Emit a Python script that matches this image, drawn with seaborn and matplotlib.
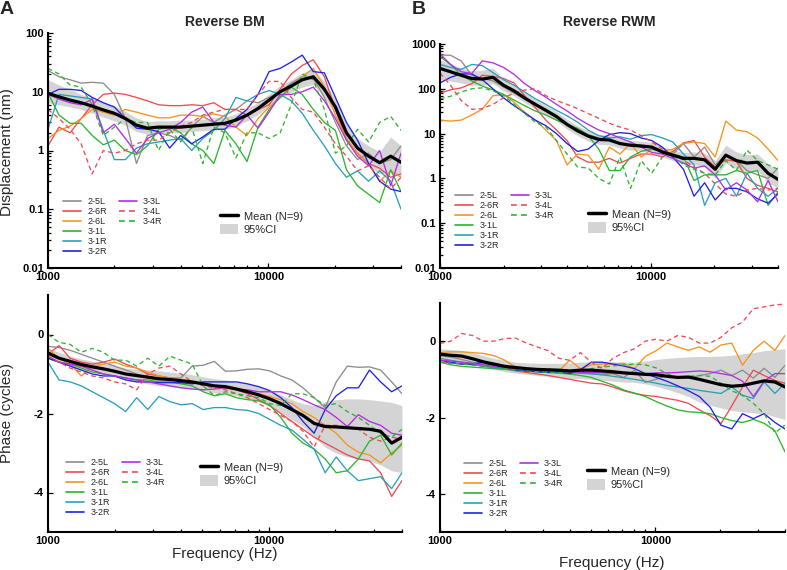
# Reverse BM / RWM transfer functions: magnitude (top) and phase (bottom)
# 9 ears, their mean and the 95% confidence band.

import numpy as np
import pandas as pd
import matplotlib
matplotlib.use("Agg")
import matplotlib.pyplot as plt
import seaborn as sns
from matplotlib.lines import Line2D
from matplotlib.patches import Patch
from matplotlib.ticker import LogLocator, NullFormatter


# 1. Data
# Frequencies in 1/6-octave steps from 1 to 40 kHz.
freq = [1000, 1122, 1260, 1414, 1587, 1782, 2000, 2245, 2520, 2828, 3175,
        3564, 4000, 4490, 5040, 5657, 6350, 7127, 8000, 8980, 10079, 11314,
        12699, 14254, 16000, 17959, 20159, 22627, 25398, 28509, 32000, 35919,
        40000]

ears = ["2-5L", "2-6R", "2-6L", "3-1L", "3-1R", "3-2R", "3-3L", "3-4L", "3-4R"]

# Reverse BM, displacement (nm)
bm_mag_25L = [23, 18, 16, 14, 14.5, 14, 9, 3.5, 0.6, 1.8, 2.0, 1.8, 1.5, 2.5, 3.8, 3.0, 4.0,
              5.0, 7.0, 6.5, 8.0, 10, 14, 18, 17, 8, 3, 1.2, 0.7, 0.9, 0.6, 0.7, 1.2]
bm_mag_26R = [1.2, 2.5, 2.0, 3.5, 6, 9, 9.5, 9, 8, 7, 6, 5.8, 5.8, 6, 5.8, 6.5, 5, 5, 4, 5,
              6, 11, 20, 28, 35, 18, 5, 1.5, 0.9, 0.6, 0.5, 0.35, 0.4]
bm_mag_26L = [1.6, 2.2, 2.6, 3.5, 5, 4.5, 4, 5, 4.5, 4, 3.6, 3.6, 4, 4, 3.8, 4.2, 3.8, 2.5,
              1.8, 3.5, 5.5, 8, 12, 18, 25, 12, 4, 1.6, 0.9, 0.6, 0.3, 0.45, 0.35]
bm_mag_31L = [9.5, 4, 2.9, 2.9, 1.8, 1.25, 1.5, 1.0, 0.85, 1.2, 2.3, 2.5, 2.0, 1.3, 1.0, 0.6,
              2.2, 1.3, 0.65, 2.5, 5, 8, 12, 9, 5, 3, 2.2, 0.47, 0.25, 0.18, 0.13, 0.47, 0.2]
bm_mag_31R = [2.3, 9, 8.5, 8, 7.5, 2.2, 0.7, 0.7, 1.1, 1.3, 1.4, 1.5, 1.6, 1.0, 1.6, 2.2, 3.5,
              8, 7, 9, 10.5, 9, 7, 4.3, 2.2, 1.2, 0.6, 0.35, 0.45, 0.3, 0.45, 0.3, 0.1]
bm_mag_32R = [9, 11, 11, 10.5, 8, 6.5, 5.5, 3.5, 2.4, 2.3, 2.1, 1.1, 1.8, 1.3, 1.7, 2.3, 2.3,
              3.5, 5, 9, 22, 25, 32, 42, 22, 21, 8, 3.0, 1.5, 0.6, 0.3, 0.22, 0.2]
bm_mag_33L = [9, 7.5, 6.5, 6, 7.5, 2, 2.8, 1.6, 0.9, 1.6, 2, 2.3, 3, 4.5, 5.5, 3, 2.7, 2.5,
              4, 2.4, 4.5, 9, 9, 10, 12, 7, 3.5, 1.5, 0.8, 0.55, 1.0, 0.25, 0.9]
bm_mag_34L = [5, 3.5, 2.3, 1.3, 0.4, 1.0, 0.9, 1.0, 1.3, 1.5, 1.5, 2.0, 2.6, 3, 4, 4.5, 5, 5,
              5, 9, 15, 15, 8, 5, 4.5, 2.5, 1.3, 0.8, 0.45, 0.55, 0.35, 0.22, 0.35]
bm_mag_34R = [25, 20, 13, 12, 6, 1.8, 2.5, 3.5, 3, 3, 1.0, 2.3, 1.4, 2.5, 0.6, 2.5, 2, 0.75,
              2, 2, 1.6, 2.0, 6, 20, 16, 5, 0.9, 1.2, 2.3, 1.4, 3.0, 3.8, 2.2]
bm_mag_mean = [9.4, 8.2, 7.2, 6.5, 5.7, 4.9, 4.3, 3.5, 2.7, 2.4, 2.5, 2.5, 2.5, 2.6, 2.7, 2.8,
               2.9, 3.3, 4.0, 5.2, 7.2, 10, 12.5, 16, 18, 11, 5.5, 2.0, 1.1, 0.8, 0.62, 0.8, 0.63]
bm_mag_lo = [6.5, 6, 5.5, 5, 4.3, 3.7, 3.2, 2.7, 2.1, 1.9, 2.0, 2.0, 2.0, 2.1, 2.2, 2.2, 2.3,
             2.6, 3.2, 4.1, 5.6, 7.8, 9.8, 12, 13.5, 8, 4.2, 1.5, 0.8, 0.55, 0.4, 0.45, 0.35]
bm_mag_hi = [16, 13, 11, 9, 7.8, 6.7, 5.8, 4.6, 3.6, 3.1, 3.2, 3.2, 3.3, 3.3, 3.4, 3.6, 3.7,
             4.2, 5.1, 6.6, 9.2, 12.8, 16, 21, 24, 15, 7.5, 2.8, 1.6, 1.2, 0.95, 1.7, 1.2]

# Reverse RWM, displacement (nm)
rwm_mag_25L = [570, 560, 420, 200, 170, 150, 110, 80, 60, 45, 35, 25, 16, 13, 9.5, 8, 7, 6,
               5.5, 5, 5.2, 4, 3.5, 6, 3, 5, 2, 3.3, 2.5, 1.5, 1.2, 1.0, 1.7]
rwm_mag_26R = [80, 95, 105, 130, 200, 190, 170, 135, 70, 38, 20, 12, 7, 3, 2.3, 2.3, 2.8, 2.2,
               2.8, 3.5, 3.5, 3, 4, 6.2, 7, 3.0, 1.8, 2.6, 2.4, 1.0, 0.7, 0.6, 0.5]
rwm_mag_26L = [20, 19, 20, 26, 35, 70, 75, 50, 30, 20, 12, 7, 2.0, 3.5, 3.3, 1.6, 5, 3.5, 6,
               3, 4.5, 4, 4.5, 6, 6.5, 6, 3, 19, 12, 11, 8, 4.5, 2.5]
rwm_mag_31L = [520, 350, 200, 150, 115, 95, 75, 56, 42, 32, 26, 20, 16, 13, 9, 4.5, 1.5, 1.5,
               3, 4, 4.5, 4, 3.5, 3, 0.9, 1.2, 1.2, 1.2, 1.5, 1.3, 1.5, 0.25, 0.5]
rwm_mag_31R = [350, 300, 270, 350, 330, 230, 160, 120, 85, 60, 45, 33, 25, 18, 12, 9, 8, 8.5,
               7.5, 9, 9.5, 8, 6.5, 3.5, 2, 0.25, 0.8, 1.0, 0.4, 1.3, 0.6, 0.4, 0.6]
rwm_mag_32R = [135, 180, 215, 215, 160, 100, 63, 42, 29, 20, 15, 10, 6, 4, 4.5, 7, 9.5, 10.5,
               10, 8, 7, 5, 3, 1.6, 0.4, 0.8, 0.33, 0.6, 0.6, 0.5, 0.35, 0.28, 0.45]
rwm_mag_33L = [600, 350, 240, 220, 420, 380, 300, 210, 130, 90, 65, 45, 32, 22, 16, 12, 10, 8,
               6.5, 5, 3.8, 3.5, 2.8, 2.2, 1.7, 1.9, 1.2, 0.55, 0.8, 0.55, 0.3, 0.9, 0.3]
rwm_mag_34L = [225, 120, 55, 35, 36, 45, 63, 80, 94, 100, 70, 55, 45, 36, 28, 22, 17, 14, 12,
               9, 6.5, 4.5, 3.2, 2.6, 1.8, 1.3, 0.75, 0.45, 0.4, 0.55, 0.6, 0.55, 0.6]
rwm_mag_34R = [60, 68, 85, 100, 105, 90, 70, 45, 28, 18, 14, 7, 3.5, 1.8, 1.7, 1.0, 0.75, 3.0,
               0.6, 2.5, 1.3, 3.0, 3.5, 2.0, 1.6, 1.3, 1.2, 2.5, 1.5, 4.3, 2.5, 2.0, 1.6]
rwm_mag_mean = [285, 240, 200, 170, 165, 180, 120, 90, 62, 45, 33, 24, 16, 11.5, 8.8, 7.4, 7.2,
                6.0, 5.5, 5.3, 5.0, 3.9, 3.3, 2.8, 2.8, 2.6, 1.6, 3.3, 2.5, 2.2, 2.3, 1.3, 0.95]
rwm_mag_lo = [160, 150, 135, 120, 120, 130, 90, 70, 49, 36, 26, 19, 12.5, 9, 6.8, 5.8, 5.6,
              4.7, 4.3, 4.1, 3.9, 3.0, 2.5, 2.1, 2.0, 1.9, 1.0, 2.2, 1.6, 1.4, 1.5, 0.8, 0.6]
rwm_mag_hi = [440, 360, 290, 250, 260, 290, 170, 120, 82, 58, 43, 31, 21, 15, 11.5, 9.5, 9.3,
              7.8, 7.0, 6.8, 6.4, 5.1, 4.4, 3.8, 3.9, 3.7, 2.5, 5.5, 3.9, 3.4, 3.5, 2.1, 1.5]

# Reverse BM, phase (cycles)
bm_ph_25L = [-0.3, -0.33, -0.4, -0.5, -0.6, -0.7, -0.8, -0.9, -1.0, -1.1, -1.15, -1.1, -1.1,
             -0.8, -0.78, -0.68, -0.93, -0.92, -0.88, -0.87, -0.92, -1.05, -1.15, -1.35, -1.6,
             -1.85, -1.2, -0.8, -0.83, -0.82, -0.9, -1.2, -1.5]
bm_ph_26R = [-0.5, -0.28, -0.6, -0.7, -0.75, -0.7, -0.62, -0.75, -0.85, -1.0, -1.05, -1.1,
             -1.15, -1.2, -1.25, -1.3, -1.35, -1.4, -1.5, -1.65, -1.8, -2.0, -2.2, -2.4, -2.6,
             -2.75, -2.9, -3.05, -3.15, -3.2, -3.5, -4.1, -3.7]
bm_ph_26L = [-0.35, -0.6, -0.75, -1.05, -0.8, -0.75, -0.7, -0.8, -0.85, -0.95, -1.05, -1.1,
             -1.15, -1.2, -1.25, -1.3, -1.35, -1.4, -1.45, -1.5, -1.57, -1.65, -1.75, -1.95,
             -2.1, -2.3, -2.5, -2.8, -2.98, -3.05, -3.25, -3.0, -2.8]
bm_ph_31L = [-0.6, -0.7, -0.75, -0.85, -0.95, -1.0, -1.05, -1.1, -1.15, -1.15, -1.2, -1.2,
             -1.25, -1.3, -1.45, -1.55, -1.5, -1.6, -1.65, -1.68, -1.78, -2.1, -2.5, -2.75,
             -2.9, -3.15, -3.5, -3.45, -3.15, -2.7, -2.55, -3.05, -2.75]
bm_ph_31R = [-0.7, -1.15, -1.2, -1.3, -1.45, -1.6, -1.75, -1.95, -1.6, -1.9, -1.57, -1.7,
             -1.78, -1.75, -1.9, -1.85, -1.85, -1.9, -1.92, -2.0, -2.15, -2.3, -2.42, -2.65,
             -2.9, -3.5, -3.1, -3.45, -3.7, -3.65, -3.6, -3.9, -3.5]
bm_ph_32R = [-0.6, -0.7, -0.8, -0.9, -1.0, -1.05, -1.05, -1.15, -1.2, -1.2, -1.22, -1.22,
             -1.22, -1.25, -1.2, -1.2, -1.2, -1.2, -1.25, -1.32, -1.42, -1.6, -1.85, -2.2,
             -2.5, -1.9, -1.55, -1.35, -1.35, -0.9, -1.2, -1.45, -1.3]
bm_ph_33L = [-0.55, -0.7, -0.75, -0.8, -0.9, -1.0, -1.05, -1.1, -1.15, -1.2, -1.25, -1.3,
             -1.35, -1.38, -1.4, -1.38, -1.35, -1.38, -1.4, -1.45, -1.45, -1.45, -1.53, -1.65,
             -1.78, -1.9, -2.1, -2.33, -2.03, -2.2, -2.3, -2.5, -2.55]
bm_ph_34L = [-0.55, -0.7, -0.85, -0.95, -1.05, -1.1, -1.2, -1.25, -1.4, -1.0, -0.85, -0.8,
             -1.0, -1.2, -1.3, -1.35, -1.4, -1.5, -1.6, -1.75, -1.9, -2.05, -2.2, -2.45, -2.85,
             -2.3, -2.3, -2.35, -2.4, -2.6, -2.7, -2.6, -2.65]
bm_ph_34R = [0.0, -0.2, -0.25, -0.45, -0.35, -0.45, -0.65, -0.65, -0.8, -0.6, -0.8, -0.55,
             -0.65, -0.75, -1.3, -1.55, -1.45, -1.5, -1.55, -1.6, -1.75, -1.8, -1.5, -1.5,
             -1.6, -1.8, -1.75, -1.95, -2.1, -2.3, -2.5, -2.6, -2.4]
bm_ph_mean = [-0.47, -0.6, -0.68, -0.76, -0.82, -0.87, -0.93, -1.0, -1.04, -1.08, -1.12, -1.14,
              -1.17, -1.2, -1.25, -1.3, -1.32, -1.38, -1.45, -1.53, -1.63, -1.75, -1.9, -2.05,
              -2.25, -2.33, -2.34, -2.36, -2.38, -2.4, -2.45, -2.75, -2.6]
bm_ph_lo = [-0.6, -0.72, -0.8, -0.88, -0.95, -1.0, -1.07, -1.15, -1.2, -1.25, -1.3, -1.32,
            -1.35, -1.38, -1.42, -1.47, -1.5, -1.55, -1.62, -1.7, -1.82, -1.97, -2.15, -2.33,
            -2.6, -2.85, -3.0, -3.1, -3.15, -3.2, -3.3, -3.45, -3.5]
bm_ph_hi = [-0.35, -0.45, -0.55, -0.62, -0.68, -0.72, -0.78, -0.85, -0.88, -0.9, -0.92, -0.95,
            -0.98, -1.02, -1.07, -1.12, -1.15, -1.2, -1.25, -1.32, -1.42, -1.52, -1.65, -1.75,
            -1.8, -1.7, -1.65, -1.63, -1.63, -1.65, -1.68, -1.72, -1.8]

# Reverse RWM, phase (cycles)
rwm_ph_25L = [-0.38, -0.42, -0.48, -0.55, -0.6, -0.65, -0.68, -0.72, -0.75, -0.77, -0.78,
              -0.8, -0.8, -0.82, -0.85, -0.88, -0.85, -0.95, -0.76, -1.08, -1.0, -0.9, -0.95,
              -0.97, -0.9, -0.85, -0.76, -0.9, -0.76, -0.97, -0.71, -0.95, -0.63]
rwm_ph_26R = [-0.55, -0.57, -0.6, -0.62, -0.65, -0.68, -0.72, -0.78, -0.82, -0.86, -0.9,
              -0.95, -1.0, -1.05, -1.1, -1.12, -1.2, -1.3, -1.37, -1.42, -1.45, -1.5, -1.55,
              -1.63, -1.8, -1.95, -2.16, -1.7, -1.2, -0.76, -0.9, -1.03, -1.1]
rwm_ph_26L = [-0.3, -0.28, -0.28, -0.3, -0.32, -0.38, -0.5, -0.68, -0.72, -0.74, -0.76, -0.78,
              -0.5, -0.72, -0.62, -0.6, -0.6, -0.58, -0.72, -0.4, -0.25, -0.05, -0.15, -0.24,
              -0.15, -0.29, -0.1, -0.05, -0.63, -0.24, 0.0, -0.24, 0.15]
rwm_ph_31L = [-0.55, -0.62, -0.66, -0.68, -0.7, -0.72, -0.74, -0.76, -0.78, -0.8, -0.82,
              -0.84, -0.86, -0.9, -0.95, -1.05, -1.15, -1.28, -1.36, -1.45, -1.58, -1.7, -1.8,
              -1.85, -1.87, -1.9, -2.0, -2.08, -2.13, -2.05, -2.15, -2.35, -2.9]
rwm_ph_31R = [-0.45, -0.5, -0.55, -0.6, -0.65, -0.7, -0.72, -0.75, -0.77, -0.79, -0.8, -0.82,
              -0.83, -0.84, -0.86, -0.88, -0.92, -0.96, -1.0, -1.05, -1.1, -1.16, -1.2, -1.24,
              -1.29, -1.33, -1.37, -1.2, -1.42, -1.5, -1.07, -1.37, -1.1]
rwm_ph_32R = [-0.5, -0.55, -0.6, -0.6, -0.55, -0.65, -0.7, -0.75, -0.78, -0.8, -0.82, -0.8,
              -0.85, -0.75, -0.55, -0.55, -0.6, -0.65, -0.72, -0.85, -0.95, -1.05, -1.17, -1.3,
              -1.45, -1.73, -2.2, -2.3, -1.9, -2.03, -1.9, -2.13, -2.3]
rwm_ph_33L = [-0.5, -0.52, -0.55, -0.58, -0.62, -0.66, -0.7, -0.72, -0.74, -0.76, -0.78, -0.8,
              -0.8, -0.82, -0.82, -0.83, -0.84, -0.85, -0.86, -0.85, -0.83, -0.83, -0.82, -0.8,
              -0.78, -0.8, -0.85, -0.9, -1.05, -1.45, -1.05, -0.85, -0.85]
rwm_ph_34L = [-0.06, 0.0, 0.2, 0.15, 0.0, 0.0, 0.07, 0.08, -0.05, -0.15, -0.25, -0.45, -0.5,
              -0.3, -0.55, -0.72, -0.45, -0.3, -0.2, 0.0, 0.05, 0.0, 0.15, 0.1, -0.05, -0.05,
              0.1, 0.35, 0.5, 0.85, 0.9, 0.95, 0.97]
rwm_ph_34R = [-0.55, -0.58, -0.6, -0.63, -0.66, -0.7, -0.72, -0.74, -0.77, -0.8, -0.82, -0.82,
              -0.8, -0.78, -0.72, -0.68, -0.65, -0.62, -0.6, -0.62, -0.7, -0.85, -0.95, -0.92,
              -0.9, -0.92, -1.1, -1.3, -1.42, -1.63, -1.9, -2.4, -2.2]
rwm_ph_mean = [-0.34, -0.37, -0.39, -0.46, -0.54, -0.6, -0.66, -0.69, -0.72, -0.74, -0.75,
               -0.76, -0.78, -0.76, -0.76, -0.78, -0.8, -0.83, -0.85, -0.87, -0.88, -0.92,
               -0.95, -0.94, -1.0, -1.07, -1.14, -1.18, -1.16, -1.1, -1.04, -1.07, -1.2]
rwm_ph_lo = [-0.48, -0.5, -0.54, -0.6, -0.68, -0.74, -0.8, -0.84, -0.87, -0.9, -0.92, -0.94,
             -0.98, -0.98, -1.0, -1.02, -1.05, -1.07, -1.08, -1.12, -1.18, -1.26, -1.35, -1.45,
             -1.6, -1.68, -1.75, -1.82, -1.85, -1.88, -1.9, -1.98, -2.05]
rwm_ph_hi = [-0.2, -0.22, -0.24, -0.3, -0.38, -0.45, -0.5, -0.55, -0.57, -0.58, -0.58, -0.58,
             -0.57, -0.55, -0.54, -0.54, -0.54, -0.55, -0.55, -0.52, -0.48, -0.45, -0.43,
             -0.41, -0.4, -0.4, -0.39, -0.37, -0.33, -0.3, -0.25, -0.22, -0.2]

colors = {"2-5L": "#8c8c8c", "2-6R": "#ee4b55", "2-6L": "#f7931e", "3-1L": "#2eb52e",
          "3-1R": "#2a9fbd", "3-2R": "#1f22e6", "3-3L": "#b22fe0", "3-4L": "#ee4b55",
          "3-4R": "#2eb52e"}
dashes = {e: "" for e in ears}
dashes["3-4L"] = (3.5, 2.5)
dashes["3-4R"] = (3.5, 2.5)
ci_color = "#d4d4d4"


# 2. Figure setup
sns.set_theme(style="ticks")
plt.rcParams["font.family"] = ["Liberation Sans", "DejaVu Sans"]
plt.rcParams["axes.unicode_minus"] = False

W, H = 787, 570
fig = plt.figure(figsize=(W / 100, H / 100), dpi=100)


def px_axes(left, top, right, bottom):
    # axes box given in pixels of the final picture
    return fig.add_axes([left / W, 1 - bottom / H, (right - left) / W, (bottom - top) / H])


def long_table(series):
    rows = []
    for ear, vals in zip(ears, series):
        for f, v in zip(freq, vals):
            rows.append({"freq": f, "value": v, "ear": ear})
    return pd.DataFrame(rows)


def draw_panel(ax, series, mean, lo, hi):
    ax.fill_between(freq, lo, hi, color=ci_color, lw=0, zorder=1)
    sns.lineplot(data=long_table(series), x="freq", y="value", hue="ear", style="ear",
                 hue_order=ears, style_order=ears, palette=colors, dashes=dashes,
                 estimator=None, lw=0.95, legend=False, ax=ax, zorder=2)
    ax.plot(freq, mean, color="black", lw=2.3, zorder=3)
    ax.set(xlabel="", ylabel="")
    ax.set_xscale("log")
    ax.set_xlim(1000, 40000)
    ax.set_xticks([1000, 10000], ["1000", "10000"], fontsize=8, fontweight="bold")
    ax.xaxis.set_minor_locator(LogLocator(base=10, subs=np.arange(2, 10)))
    ax.xaxis.set_minor_formatter(NullFormatter())
    sns.despine(ax=ax)
    for side in ["left", "bottom"]:
        ax.spines[side].set_linewidth(1.5)
        ax.spines[side].set_color("black")
    ax.tick_params(which="both", direction="in", width=0.9, color="black",
                   labelcolor="black", pad=3)
    ax.tick_params(which="major", length=3.5)
    ax.tick_params(which="minor", length=2)


def magnitude_axis(ax, top_decade):
    ax.set_yscale("log")
    ax.set_ylim(0.01, top_decade)
    ticks = [0.01, 0.1, 1, 10, 100, 1000]
    ticks = [t for t in ticks if t <= top_decade]
    ax.set_yticks(ticks, [f"{t:g}" for t in ticks], fontsize=8, fontweight="bold")
    ax.yaxis.set_minor_locator(LogLocator(base=10, subs=np.arange(2, 10), numticks=20))
    ax.yaxis.set_minor_formatter(NullFormatter())


def phase_axis(ax):
    ax.set_ylim(-5, 1)
    ax.set_yticks([0, -2, -4], ["0", "-2", "-4"], fontsize=8, fontweight="bold")
    ax.yaxis.set_minor_locator(plt.NullLocator())


def ear_legend(x, y):
    handles, labels = [], []
    for ear in ears:
        ls = "-" if dashes[ear] == "" else (0, dashes[ear])
        handles.append(Line2D([], [], color=colors[ear], lw=1.2, ls=ls))
        labels.append(ear)
    # blank entries so the first column holds six ears and the second three
    for k in range(3):
        handles.append(Line2D([], [], color="none"))
        labels.append("")
    fig.legend(handles, labels, ncol=2, loc="upper left", bbox_to_anchor=(x / W, 1 - y / H),
               frameon=False, fontsize=6.5, handlelength=2.0, handletextpad=0.7,
               columnspacing=1.3, labelspacing=0.12, borderpad=0, borderaxespad=0)


def mean_legend(x, y):
    handles = [Line2D([], [], color="black", lw=2.5),
               Patch(facecolor=ci_color, edgecolor="none")]
    fig.legend(handles, ["Mean (N=9)", "95%CI"], loc="upper left",
               bbox_to_anchor=(x / W, 1 - y / H), frameon=False, fontsize=8,
               handlelength=1.6, handleheight=1.1, handletextpad=0.55, labelspacing=0.2,
               borderpad=0, borderaxespad=0)


# 3. Panels
ax_bm = px_axes(48, 33, 401, 268)
draw_panel(ax_bm, [bm_mag_25L, bm_mag_26R, bm_mag_26L, bm_mag_31L, bm_mag_31R, bm_mag_32R,
                   bm_mag_33L, bm_mag_34L, bm_mag_34R], bm_mag_mean, bm_mag_lo, bm_mag_hi)
magnitude_axis(ax_bm, 100)

ax_rwm = px_axes(440, 44, 778, 268)
draw_panel(ax_rwm, [rwm_mag_25L, rwm_mag_26R, rwm_mag_26L, rwm_mag_31L, rwm_mag_31R,
                    rwm_mag_32R, rwm_mag_33L, rwm_mag_34L, rwm_mag_34R],
           rwm_mag_mean, rwm_mag_lo, rwm_mag_hi)
magnitude_axis(ax_rwm, 1000)

ax_bm_ph = px_axes(48, 295, 402, 532)
draw_panel(ax_bm_ph, [bm_ph_25L, bm_ph_26R, bm_ph_26L, bm_ph_31L, bm_ph_31R, bm_ph_32R,
                      bm_ph_33L, bm_ph_34L, bm_ph_34R], bm_ph_mean, bm_ph_lo, bm_ph_hi)
phase_axis(ax_bm_ph)

ax_rwm_ph = px_axes(440, 303, 785, 532)
draw_panel(ax_rwm_ph, [rwm_ph_25L, rwm_ph_26R, rwm_ph_26L, rwm_ph_31L, rwm_ph_31R,
                       rwm_ph_32R, rwm_ph_33L, rwm_ph_34L, rwm_ph_34R],
           rwm_ph_mean, rwm_ph_lo, rwm_ph_hi)
phase_axis(ax_rwm_ph)

# legends (positions in pixels)
ear_legend(63, 197)
ear_legend(455, 191)
ear_legend(66, 458)
ear_legend(464, 459)
mean_legend(220, 210.5)
mean_legend(588, 208.5)
mean_legend(200, 461.5)
mean_legend(587, 465.5)

# titles, panel letters and axis labels
fig.text(7 / W, 1 - 9 / H, "A", fontsize=14, fontweight="bold", ha="center", va="center")
fig.text(419 / W, 1 - 9 / H, "B", fontsize=14, fontweight="bold", ha="center", va="center")
fig.text(224.5 / W, 1 - 22 / H, "Reverse BM", fontsize=10, fontweight="bold",
         ha="center", va="center")
fig.text(609 / W, 1 - 22 / H, "Reverse RWM", fontsize=10, fontweight="bold",
         ha="center", va="center")
fig.text(7.5 / W, 1 - 152 / H, "Displacement (nm)", fontsize=11, rotation=90,
         ha="center", va="center")
fig.text(7.5 / W, 1 - 413 / H, "Phase (cycles)", fontsize=11, rotation=90,
         ha="center", va="center")
fig.text(224.5 / W, 1 - 554 / H, "Frequency (Hz)", fontsize=11, ha="center", va="center")
fig.text(612 / W, 1 - 563 / H, "Frequency (Hz)", fontsize=11, ha="center", va="center")

fig.savefig("out.png", dpi=100)
